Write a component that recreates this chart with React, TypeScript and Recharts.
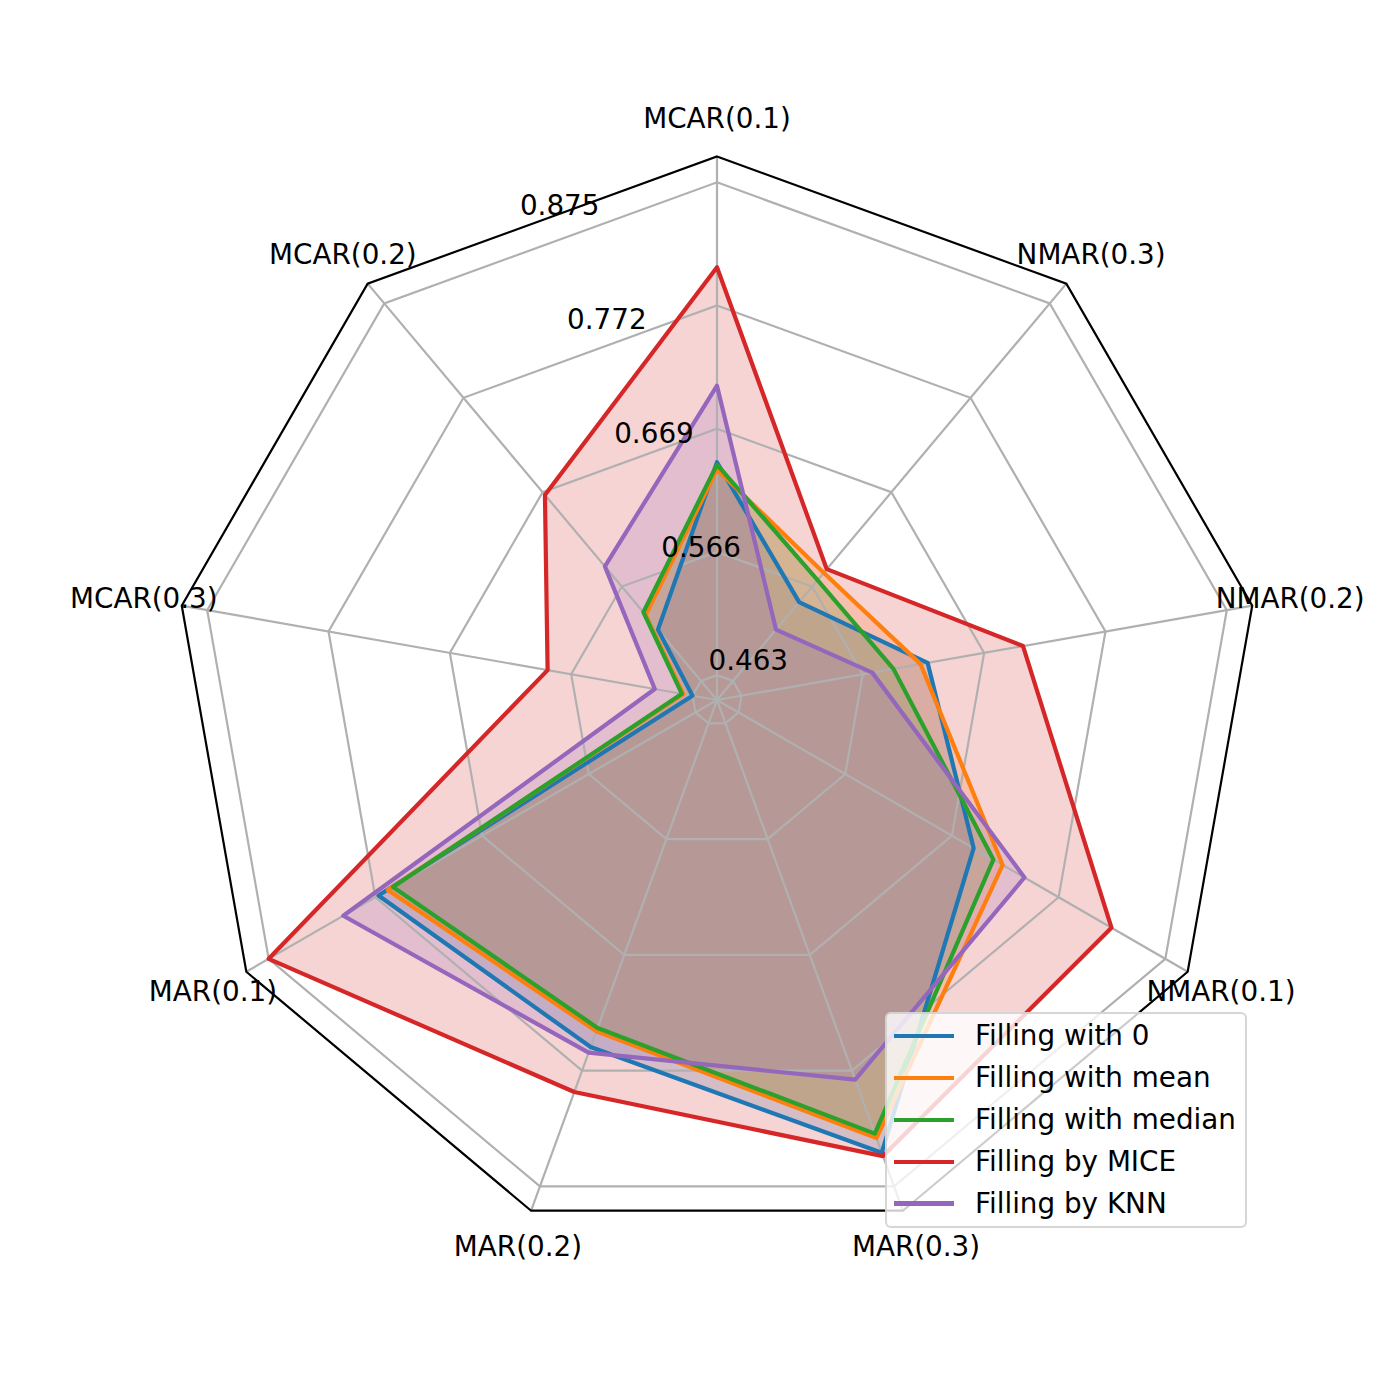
import React from 'react';
import { RadarChart, Radar, PolarGrid, PolarAngleAxis, PolarRadiusAxis } from 'recharts';

// categories in clockwise order starting at the top
const categories = [
  'MCAR(0.1)', 'NMAR(0.3)', 'NMAR(0.2)', 'NMAR(0.1)',
  'MAR(0.3)', 'MAR(0.2)', 'MAR(0.1)', 'MCAR(0.3)', 'MCAR(0.2)',
];

const fillZero = [0.641, 0.549, 0.621, 0.690, 0.845, 0.751, 0.769, 0.463, 0.519];
const fillMean = [0.635, 0.581, 0.615, 0.718, 0.832, 0.737, 0.760, 0.471, 0.535];
const fillMedian = [0.639, 0.573, 0.592, 0.709, 0.828, 0.734, 0.755, 0.472, 0.538];
const fillMice = [0.804, 0.585, 0.702, 0.823, 0.848, 0.791, 0.875, 0.586, 0.666];
const fillKnn = [0.705, 0.519, 0.574, 0.739, 0.780, 0.756, 0.803, 0.495, 0.588];

const radiusTicks = [0.463, 0.566, 0.669, 0.772, 0.875];
const radiusDomain = [0.4422, 0.8966];

const seriesNames = ['Filling with 0', 'Filling with mean', 'Filling with median', 'Filling by MICE', 'Filling by KNN'];
const seriesKeys = ['zero', 'mean', 'median', 'mice', 'knn'];
const seriesColors = ['#1f77b4', '#ff7f0e', '#2ca02c', '#d62728', '#9467bd'];
const seriesValues = [fillZero, fillMean, fillMedian, fillMice, fillKnn];

// express values as a fraction of the radial range (centre = domain min, frame = domain max)
const span = radiusDomain[1] - radiusDomain[0];
const toFrac = (v: number) => (v - radiusDomain[0]) / span;
const fromFrac = (f: number) => radiusDomain[0] + f * span;

const data = categories.map((c, i) => {
  const row: Record<string, any> = { category: c };
  seriesKeys.forEach((k, j) => {
    row[k] = toFrac(seriesValues[j][i]);
  });
  return row;
});
const fracTicks = radiusTicks.map(toFrac);

const W = 1384;
const H = 1384;
const CX = 709;
const CY = 692;
const OUTER_R = 543.5;
const LABEL_R = 582;
const FONT = '"DejaVu Sans", sans-serif';
const FS = 27.8;

const AngleTick = (props: any) => {
  const { x, y, payload } = props;
  const dx = x - CX;
  const dy = y - CY;
  const len = Math.sqrt(dx * dx + dy * dy) || 1;
  const lx = CX + (dx / len) * LABEL_R;
  const ly = CY + (dy / len) * LABEL_R;
  return (
    <text x={lx} y={ly} textAnchor="middle" dominantBaseline="central" fontSize={FS} fontFamily={FONT} fill="#000">
      {payload.value}
    </text>
  );
};

const RadiusTick = (props: any) => {
  const { x, y, payload } = props;
  return (
    <text x={x + 1} y={y - 6.6} textAnchor="start" fontSize={FS} fontFamily={FONT} fill="#000">
      {fromFrac(Number(payload.value)).toFixed(3)}
    </text>
  );
};

const chartProps = {
  width: W,
  height: H,
  data,
  cx: CX,
  cy: CY,
  outerRadius: OUTER_R,
  innerRadius: 0,
  startAngle: 90,
  endAngle: -270,
  margin: { top: 0, right: 0, bottom: 0, left: 0 },
};

export default function App() {
  return (
    <div style={{ position: 'relative', width: W, height: H, background: '#fff' }}>
      {/* fills underneath */}
      <div style={{ position: 'absolute', left: 0, top: 0 }}>
        <RadarChart {...chartProps}>
          <PolarAngleAxis dataKey="category" tick={false} tickLine={false} axisLine={false} />
          <PolarRadiusAxis
            type="number"
            domain={[0, 1]}
            ticks={fracTicks}
            allowDataOverflow
            tick={false}
            tickLine={false}
            axisLine={false}
          />
          {seriesKeys.map((k, j) => (
            <Radar
              key={'f-' + k}
              dataKey={k}
              stroke="none"
              fill={seriesColors[j]}
              fillOpacity={0.2}
              isAnimationActive={false}
              dot={false}
              legendType="none"
            />
          ))}
        </RadarChart>
      </div>
      {/* grid, axes and lines on top */}
      <div style={{ position: 'absolute', left: 0, top: 0 }}>
        <RadarChart {...chartProps}>
          <PolarGrid gridType="polygon" stroke="#b0b0b0" strokeWidth={2.2} />
          <PolarAngleAxis
            dataKey="category"
            axisLineType="polygon"
            axisLine={{ stroke: '#000', strokeWidth: 2.2 }}
            tickLine={false}
            tick={<AngleTick />}
          />
          <PolarRadiusAxis
            type="number"
            domain={[0, 1]}
            ticks={fracTicks}
            angle={112.5}
            allowDataOverflow
            axisLine={false}
            tickLine={false}
            tick={<RadiusTick />}
          />
          {seriesKeys.map((k, j) => (
            <Radar
              key={'l-' + k}
              name={seriesNames[j]}
              dataKey={k}
              stroke={seriesColors[j]}
              strokeWidth={4.2}
              strokeLinejoin="round"
              fill="none"
              fillOpacity={0}
              isAnimationActive={false}
              dot={false}
            />
          ))}
        </RadarChart>
      </div>
      <div
        style={{
          position: 'absolute',
          left: 877,
          top: 1004,
          width: 362,
          height: 216,
          boxSizing: 'border-box',
          border: '2px solid rgba(204,204,204,0.8)',
          borderRadius: 6,
          background: 'rgba(255,255,255,0.8)',
          fontFamily: FONT,
          fontSize: FS,
          color: '#000',
        }}
      >
        {seriesNames.map((n, j) => (
          <div
            key={n}
            style={{
              position: 'absolute',
              left: 0,
              top: 1 + j * 41.9,
              height: 41.9,
              display: 'flex',
              alignItems: 'center',
              whiteSpace: 'nowrap',
            }}
          >
            <div style={{ marginLeft: 7, width: 60, height: 4.2, background: seriesColors[j] }} />
            <span style={{ marginLeft: 21, lineHeight: '41.9px' }}>{n}</span>
          </div>
        ))}
      </div>
    </div>
  );
}
